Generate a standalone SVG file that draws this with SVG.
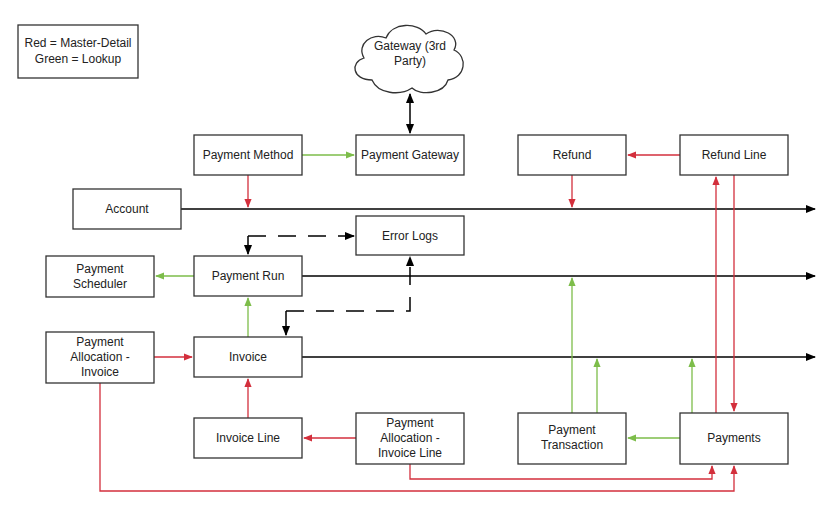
<svg xmlns="http://www.w3.org/2000/svg" width="829" height="510" viewBox="0 0 829 510">
<defs>
<marker id="ak" viewBox="0 0 10 10" refX="9" refY="5" markerWidth="7" markerHeight="7" orient="auto-start-reverse"><path d="M0,1 L10,5 L0,9 z" fill="#000"/></marker>
<marker id="ar" viewBox="0 0 10 10" refX="9" refY="5" markerWidth="7" markerHeight="7" orient="auto"><path d="M0,1 L10,5 L0,9 z" fill="#d32f3c"/></marker>
<marker id="ag" viewBox="0 0 10 10" refX="9" refY="5" markerWidth="7" markerHeight="7" orient="auto"><path d="M0,1 L10,5 L0,9 z" fill="#7dbd4a"/></marker>
</defs>
<style>
.n rect{fill:#fff;stroke:#333;stroke-width:1.3}
text{font-family:"Liberation Sans",Arial,sans-serif;font-size:12px;fill:#222;text-anchor:middle}
.k{stroke:#000;stroke-width:1.5;fill:none}
.r{stroke:#d32f3c;stroke-width:1.3;fill:none}
.g{stroke:#7dbd4a;stroke-width:1.3;fill:none}
.d{stroke-dasharray:18 12}
</style>
<rect width="829" height="510" fill="#fff"/>
<g id="connectors">
<path class="k" d="M181,209 H815" marker-end="url(#ak)"/>
<path class="k" d="M302,276 H815" marker-end="url(#ak)"/>
<path class="k" d="M302,357 H815" marker-end="url(#ak)"/>
<path class="k" d="M410,94 V133" marker-start="url(#ak)" marker-end="url(#ak)"/>
<path class="k d" d="M248,236 H354" marker-end="url(#ak)"/>
<path class="k" d="M248,236 V254" marker-end="url(#ak)"/>
<path class="k d" d="M286,311 H410 V257" marker-end="url(#ak)"/>
<path class="k" d="M286,311 V335" marker-end="url(#ak)"/>
<path class="g" d="M302,155 H354" marker-end="url(#ag)"/>
<path class="r" d="M248,175 V207" marker-end="url(#ar)"/>
<path class="r" d="M572,175 V207" marker-end="url(#ar)"/>
<path class="r" d="M680,155 H628" marker-end="url(#ar)"/>
<path class="g" d="M194,276 H156" marker-end="url(#ag)"/>
<path class="g" d="M248,337 V298" marker-end="url(#ag)"/>
<path class="r" d="M154,357 H192" marker-end="url(#ar)"/>
<path class="r" d="M248,418 V379" marker-end="url(#ar)"/>
<path class="r" d="M356,438 H304" marker-end="url(#ar)"/>
<path class="g" d="M680,438 H628" marker-end="url(#ag)"/>
<path class="g" d="M572,413 V278" marker-end="url(#ag)"/>
<path class="g" d="M597,413 V359" marker-end="url(#ag)"/>
<path class="g" d="M692,413 V359" marker-end="url(#ag)"/>
<path class="r" d="M716,413 V177" marker-end="url(#ar)"/>
<path class="r" d="M734,175 V411" marker-end="url(#ar)"/>
<path class="r" d="M410,464 V479 H712 V466" marker-end="url(#ar)"/>
<path class="r" d="M100,383 V491 H734 V466" marker-end="url(#ar)"/>
</g>
<g id="legend" class="n"><rect x="18" y="25" width="120" height="53"/><text x="78" y="47">Red = Master-Detail</text><text x="78" y="63">Green = Lookup</text></g>
<g id="gateway"><path d="M372,80 C352,80 350,62 364,58 C356,44 372,32 386,38 C392,22 418,22 426,34 C440,24 462,36 454,50 C468,56 466,78 448,80 C444,94 420,96 412,88 C400,96 378,94 372,80 z" fill="#fff" stroke="#333" stroke-width="1.3"/><text x="410" y="50">Gateway (3rd</text><text x="410" y="65">Party)</text></g>
<g id="payment-method" class="n"><rect x="194" y="135" width="108" height="40"/><text x="248" y="159">Payment Method</text></g>
<g id="payment-gateway" class="n"><rect x="356" y="135" width="108" height="40"/><text x="410" y="159">Payment Gateway</text></g>
<g id="refund" class="n"><rect x="518" y="135" width="108" height="40"/><text x="572" y="159">Refund</text></g>
<g id="refund-line" class="n"><rect x="680" y="135" width="108" height="40"/><text x="734" y="159">Refund Line</text></g>
<g id="account" class="n"><rect x="73" y="189" width="108" height="40"/><text x="127" y="213">Account</text></g>
<g id="error-logs" class="n"><rect x="356" y="216" width="108" height="39"/><text x="410" y="240">Error Logs</text></g>
<g id="payment-scheduler" class="n"><rect x="46" y="256" width="108" height="41"/><text x="100" y="273">Payment</text><text x="100" y="288">Scheduler</text></g>
<g id="payment-run" class="n"><rect x="194" y="256" width="108" height="40"/><text x="248" y="280">Payment Run</text></g>
<g id="payment-allocation-invoice" class="n"><rect x="46" y="332" width="108" height="51"/><text x="100" y="346">Payment</text><text x="100" y="361">Allocation -</text><text x="100" y="376">Invoice</text></g>
<g id="invoice" class="n"><rect x="194" y="337" width="108" height="40"/><text x="248" y="361">Invoice</text></g>
<g id="invoice-line" class="n"><rect x="194" y="418" width="108" height="40"/><text x="248" y="442">Invoice Line</text></g>
<g id="payment-allocation-invoice-line" class="n"><rect x="356" y="413" width="108" height="51"/><text x="410" y="427">Payment</text><text x="410" y="442">Allocation -</text><text x="410" y="457">Invoice Line</text></g>
<g id="payment-transaction" class="n"><rect x="518" y="413" width="108" height="51"/><text x="572" y="434">Payment</text><text x="572" y="449">Transaction</text></g>
<g id="payments" class="n"><rect x="680" y="413" width="108" height="51"/><text x="734" y="442">Payments</text></g>
</svg>
